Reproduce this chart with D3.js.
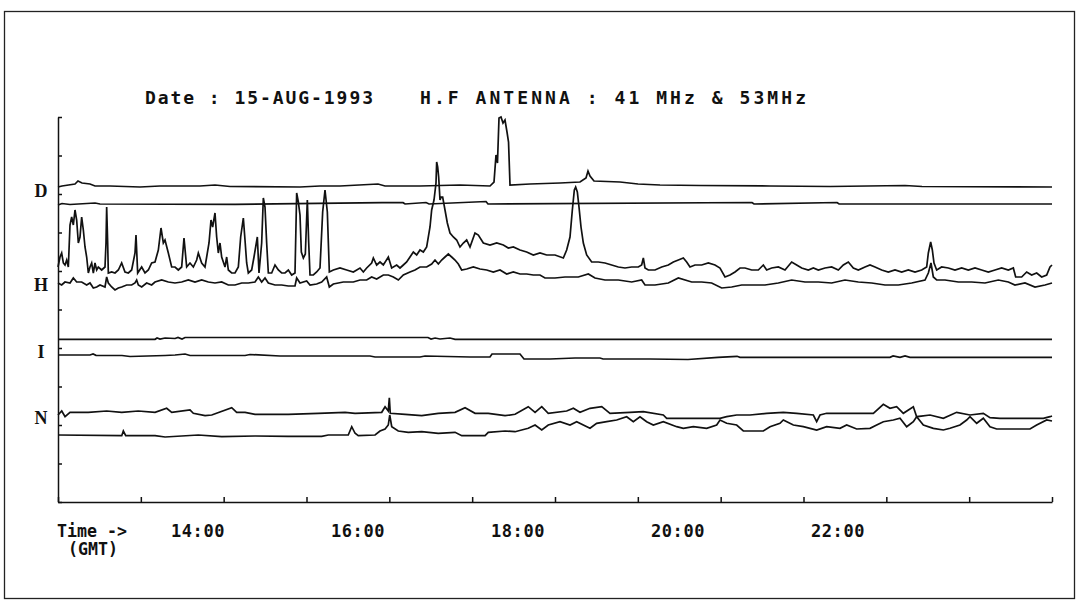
<!DOCTYPE html>
<html>
<head>
<meta charset="utf-8">
<script src="https://cdn.jsdelivr.net/npm/d3@7/dist/d3.min.js"></script>
<style>
  body { margin: 0; background: #fff; }
  svg text { fill: #111; }
</style>
</head>
<body>
<svg id="chart" width="1078" height="607"></svg>
<script>
'use strict';

// time is minutes after 12:15 GMT, level is in display units above the bottom axis
var titleDate = 'Date : 15-AUG-1993';
var titleAntenna = 'H.F ANTENNA : 41 MHz & 53MHz';
var hourLabels = ['14:00', '16:00', '18:00', '20:00', '22:00'];
var hourValues = [14, 16, 18, 20, 22];
var channelNames = ['D', 'H', 'I', 'N'];
var channelLevels = [311, 217, 150, 84];

// D channel
var traceD1 = [[0,315],[3,316],[12.75,318],[15,321],[18,319],[24,318],[27.75,316],[39,316],[61.5,315],
  [76.5,316],[106.5,316],[117.75,317],[129,315.5],[181.5,315],[196.5,316],[211.5,316],[240,318],
  [245.25,316],[271.5,316],[301.5,317],[324,316],[327,320],[328.5,347],[329.6,339],[330.75,384],
  [332.25,385],[333.75,379],[335.25,382],[336.75,370],[337.9,360],[339,317],[354,318],[376.5,319],
  [391.5,320],[396,324],[397.5,331],[399,326],[402,321],[421.5,320],[435,318],[451.5,317],
  [481.5,316.5],[534,316],[579,315.5],[635.25,316.5],[648,315.5],[745.5,315]];
var traceD2 = [[0,297],[3,298.5],[9,297.5],[27.8,299],[31.5,298],[132.8,297.7],[243,299.3],
  [258.8,299.3],[260.3,298],[276,299.5],[278.3,298],[321,300.5],[322.5,298],[520.5,299.5],
  [522,298],[584.3,299.5],[585.8,298],[745.5,298]];

// H channel
var traceH1 = [[0,235],[1.5,245],[2.75,249],[4,239],[5.25,237],[6.5,242],[7.75,235],[9,277],
  [10.25,285],[11.5,277],[12.75,292],[14,282],[15.25,259],[16.5,265],[17.75,285],[19,272],
  [20.25,255],[21.5,245],[22.75,229],[24,235],[25.25,239],[26.5,229],[27.75,239],[29,232],
  [30.25,235],[32.75,232],[35.25,235],[36,259],[36.5,295],[37.25,259],[37.75,229],[40.25,230],
  [42.75,229],[45.25,232],[47.75,239],[50.25,230],[52.75,229],[55.25,232],[57.75,249],[58.5,267],
  [59.75,229],[62.75,235],[65.25,229],[67.75,232],[70.25,239],[72.75,240],[75.25,252],[77.25,274],
  [79,259],[80.25,262],[82.75,249],[85.25,235],[87.75,235],[90.25,232],[92.75,235],[94.5,264],
  [96.5,235],[99,239],[101.5,235],[104,242],[105.25,249],[107.75,239],[110.25,235],[111.5,245],
  [113.25,259],[114.75,282],[116,275],[117.75,289],[119,265],[120.25,249],[121.5,259],[122.75,245],
  [125.25,235],[126.5,245],[127.75,232],[130.25,229],[132.75,229],[135.25,235],[137,265],[139,284],
  [140.25,262],[141.5,239],[142.75,229],[145.25,232],[147,245],[148.25,255],[149.5,265],
  [150.75,229],[152.75,259],[154,304],[155.25,295],[156.5,259],[157.75,229],[160.25,229],
  [162.75,237],[165.25,232],[167.75,229],[170.25,229],[172.75,232],[175.25,227],[177.75,229],
  [179,309],[180.25,300],[181.5,287],[182.5,250],[184,244],[185.5,248],[187,302],[188,260],
  [189,227],[191.5,227],[194,230],[196.5,234],[198.5,290],[200.25,312],[202,290],[203.5,230],
  [206.5,232],[211.5,234],[216.5,232],[221.5,230],[226.5,234],[229,230],[231.5,234],[235.25,239],
  [236.5,244],[239,237],[241.5,240],[244,237],[247.75,245],[250.25,234],[254,237],[256.5,234],
  [259,237],[261.5,240],[264,245],[266.5,250],[269,247],[271.5,252],[274,250],[276.5,255],
  [279,275],[280.25,292],[282,302],[283.5,319],[284,340],[284.75,335],[285.5,325],[286.5,302],
  [287.5,305],[288.5,305],[290.25,292],[292,279],[294,269],[296.5,265],[299,262],[301.5,255],
  [304,259],[306.5,262],[309,255],[312.75,269],[315.25,267],[319,259],[324,257],[329,259],
  [334,257],[337.75,254],[341.5,255],[346.5,252],[351.5,250],[356.5,247],[361.5,249],[366.5,247],
  [372.75,247],[379,244],[381.5,252],[384,265],[385.75,292],[387.25,312],[388.25,315],
  [389.5,310],[390.75,295],[392.25,275],[394,259],[396.5,247],[400.25,240],[405.25,240],
  [410.25,239],[415.25,237],[420.25,235],[425.25,234],[430.25,235],[435.25,235],[437.75,237],
  [439,244],[440.25,234],[442.75,232],[447.75,232],[452.75,235],[457.75,237],[461.5,240],
  [465.25,242],[469,244],[471.5,240],[474,235],[477.75,237],[482.75,237],[487.75,239],
  [492.75,237],[496.5,234],[500.25,225],[504,227],[507.75,230],[511.5,234],[515.25,234],
  [520.25,232],[525.25,232],[529,237],[531.5,232],[535.25,234],[540.25,235],[545.25,232],
  [550.25,240],[554,237],[557.75,234],[562.75,232],[566.5,234],[570.25,232],[575.25,234],
  [580.25,235],[585.25,232],[589,237],[592.75,240],[596.5,234],[600.25,232],[605.25,235],
  [609,237],[612.75,235],[617.75,232],[622.75,230],[627.75,232],[632.75,230],[637.75,232],
  [642.75,230],[647.75,232],[651.5,235],[652.75,249],[654.5,260],[655.75,252],[657,239],
  [659,232],[662.75,235],[667.75,234],[672.75,232],[677.75,234],[682.75,232],[687.75,234],
  [692.75,232],[697.75,230],[702.75,232],[707.75,234],[712.75,232],[716.5,234],[718.25,225],
  [722.75,225],[726.5,230],[730.25,227],[734,229],[737.75,225],[741.5,227],[744,235],[745.5,237]];
var traceH2 = [[0,219],[2.75,217],[5.25,220],[9,219],[11.5,224],[14,220],[17.75,220],[21.5,217],
  [24,219],[26.5,214],[29,215],[31.5,217],[35.25,215],[36.5,225],[37.75,219],[40.25,215],
  [42.75,212],[45.25,214],[47.75,215],[51.5,217],[55.25,217],[57.75,219],[59,222],[60.25,217],
  [62.75,215],[66.5,219],[70.25,217],[72.75,220],[77.75,222],[82.75,220],[87.75,219],[92.75,220],
  [97.75,222],[102.75,220],[107.75,222],[112.75,220],[117.75,219],[122.75,220],[127.75,217],
  [132.75,217],[137.75,219],[142.75,219],[147.75,220],[150.25,225],[152.75,220],[155.25,224],
  [157.75,219],[162.75,217],[167.75,217],[172.75,216],[177.75,216],[179,224],[181.5,219],
  [186.5,221],[189,217],[194,218],[197.75,220],[201.5,225],[203.5,215],[206.5,218],[214,220],
  [221.5,220],[226.5,222],[231.5,222],[235.25,225],[239,223],[244,227],[247.75,227],[251.5,225],
  [255.25,222],[259,227],[264,230],[267.75,232],[271.5,235],[276.5,235],[280.25,238],[282.75,242],
  [285.25,238],[287.75,242],[290.25,245],[292.75,248],[295.25,245],[297.75,242],[300.25,238],
  [302.75,232],[306.5,233],[311.5,235],[316.5,233],[321.5,232],[326.5,230],[331.5,232],
  [336.5,228],[341.5,230],[346.5,228],[351.5,228],[356.5,227],[361.5,227],[365.25,224],
  [372.75,224],[380.25,225],[390.25,225],[397.75,228],[402.75,224],[410.25,222],[420.25,222],
  [430.25,220],[437.75,222],[440.25,217],[447.75,217],[457.75,219],[465.25,224],[475.25,220],
  [482.75,220],[490.25,219],[497.75,214],[505.25,215],[512.75,217],[520.25,217],[530.25,217],
  [540.25,219],[550.25,222],[560.25,220],[570.25,220],[580.25,219],[590.25,222],[600.25,220],
  [610.25,219],[620.25,217],[630.25,217],[640.25,219],[650.25,222],[652.75,229],[654.75,239],
  [656.5,225],[659,222],[665.25,222],[675.25,220],[685.25,220],[695.25,219],[705.25,222],
  [712.75,220],[717.75,217],[725.25,219],[732.75,215],[740.25,217],[745.5,219]];

// I channel
var traceI1 = [[0,162.7],[72.8,162.7],[74.3,164],[76.5,163],[80.3,164],[87.8,163.5],[90,164.5],
  [93,163],[95.3,164.5],[102.8,164.5],[277.5,164.5],[279.8,163],[282.8,164],[286.5,163],
  [294,164],[297.8,162.7],[745.5,162.7]];
var traceI2 = [[0,147],[24,147],[26.3,148],[28.5,146.7],[48,146.5],[54,145.5],[80.3,146.5],
  [87.8,147],[95.3,148],[99,146.5],[140.3,146.5],[144,147.5],[166.5,146],[234,146],[237.8,145],
  [271.5,145],[275.3,146],[309,145],[324,145],[325.5,148],[346.5,148],[349.5,143],[369,143],
  [387.8,144],[406.5,144],[408.8,143],[444,143],[472.5,142.5],[495,144.7],[509.3,145.7],
  [511.5,144.7],[624,144.7],[626.3,146],[631.5,144.7],[635.3,146],[639,144.7],[745.5,144.7]];

// N channel
var traceN1 = [[0,87],[2.8,91],[5.3,85.3],[9,89.7],[22.7,89.7],[36.5,91],[47.8,89.7],[60.2,91],
  [72.8,89.7],[81.5,93.7],[85.3,89.7],[99,92],[101.5,88.7],[110.3,86.3],[115.3,87],[130.3,94.3],
  [134,89.7],[140.3,89.7],[147.8,87.7],[172.7,87.7],[195.2,88.7],[215.3,89.7],[222.8,88.7],
  [242.8,89.7],[245.3,95.3],[247.7,91],[248.5,104.3],[249.2,88.7],[260.3,87.7],[272.8,86.3],
  [285.2,88.7],[297.8,89.7],[305.3,94.3],[312.8,88.7],[322.7,88.7],[335.3,86.3],[342.8,87.7],
  [352.7,95.3],[357.8,89.7],[362.8,95.3],[367.7,88.7],[381.5,91],[386.5,93.7],[391.5,89.7],
  [399,93.7],[407.8,95.3],[414,88.7],[429,89.7],[439,90.3],[454,87],[456.5,83.7],[496.5,83.7],
  [501.5,85.3],[509,87],[519,87],[531.5,88.7],[544,89.7],[554,88.7],[566.5,87],[569,80.3],
  [571.5,87],[576.5,88.7],[611.5,88.7],[619,97.7],[624,93.7],[629,95.3],[634,88.7],[641.5,95.3],
  [644,85.3],[654,87],[664,83.7],[674,89.7],[684,87],[694,88.7],[699,84.3],[706.5,83.7],
  [739,83.7],[744,85.3],[745.5,86]];
var traceN2 = [[0,67],[47.8,66.3],[49,71],[50.8,66.3],[72.8,66.3],[80.3,65],[105.2,67],[122.8,65.3],
  [147.8,66],[172.7,65.7],[197.8,65.7],[202.7,67],[217.7,67],[220.3,75.3],[222.8,68.7],
  [225.2,66.3],[237.8,67],[241.5,71],[245.3,73],[247.7,77],[248.8,87],[250.3,75.3],[255.2,71],
  [262.7,69.7],[272.8,70.3],[285.2,68.7],[297.8,69.7],[302.8,66.3],[320.3,66.3],[322.7,69.7],
  [335.3,71],[342.8,70.3],[352.7,73.7],[357.8,77],[362.8,72],[367.7,77],[376.5,80.3],[384,77],
  [389,80.3],[394,77],[399,73.7],[404,78.7],[411.5,80.3],[419,82],[426.5,85.3],[431.5,80.3],
  [436.5,85.3],[441.5,80.3],[446.5,77],[454,80.3],[464,75.3],[469,73.7],[476.5,75.3],
  [486.5,73.7],[494,77],[496.5,82],[501.5,78.7],[509,77],[514,71],[529,71],[534,75.3],
  [541.5,78.7],[544,82],[551.5,77],[559,75.3],[569,72],[576.5,75.3],[586.5,73.7],[591.5,77],
  [599,73],[609,73.7],[614,77],[619,80.3],[626.5,82],[631.5,83.7],[636.5,75.3],[641.5,80.3],
  [644,85.3],[649,77],[656.5,73.7],[664,72],[669,73.7],[676.5,77],[681.5,82],[684,85.3],
  [689,78.7],[694,83.7],[699,75.3],[704,73],[729,73],[734,77],[741.5,82],[745.5,81]];

var traces = [traceD1, traceD2, traceH1, traceH2, traceI1, traceI2, traceN1, traceN2];

// layout
var plot = { left: 58, right: 1052, top: 117, bottom: 502 };
var svg = d3.select('#chart');

var x = d3.scaleLinear().domain([0, 745.5]).range([plot.left, plot.right]);
var y = d3.scaleLinear().domain([0, 385]).range([plot.bottom, plot.top]);

// frame round the whole picture
svg.append('rect')
  .attr('x', 4.5).attr('y', 11.5)
  .attr('width', 1070).attr('height', 587)
  .attr('fill', 'none')
  .attr('stroke', '#222')
  .attr('stroke-width', 1.3);

// left axis, ticks pointing inward
var yAxis = d3.axisRight(y)
  .tickValues(d3.range(0, 386, 38.5))
  .tickSize(4)
  .tickSizeOuter(0)
  .tickFormat('');
svg.append('g')
  .attr('transform', 'translate(' + plot.left + ',0)')
  .call(yAxis)
  .call(function (g) {
    g.selectAll('path, line').attr('stroke', '#111').attr('stroke-width', 1.5);
  });

// bottom axis, 12 equal divisions, ticks pointing up
var xAxis = d3.axisTop(x)
  .tickValues(d3.range(13).map(function (i) { return i * 745.5 / 12; }))
  .tickSize(5)
  .tickSizeOuter(0)
  .tickFormat('');
svg.append('g')
  .attr('transform', 'translate(0,' + plot.bottom + ')')
  .call(xAxis)
  .call(function (g) {
    g.selectAll('path, line').attr('stroke', '#111').attr('stroke-width', 1.5);
  });

// traces
var line = d3.line()
  .x(function (d) { return x(d[0]); })
  .y(function (d) { return y(d[1]); });

svg.append('g')
  .selectAll('path')
  .data(traces)
  .join('path')
  .attr('d', line)
  .attr('fill', 'none')
  .attr('stroke', '#111')
  .attr('stroke-width', 1.7)
  .attr('stroke-linejoin', 'miter');

// channel letters
svg.append('g')
  .selectAll('text')
  .data(channelNames)
  .join('text')
  .attr('x', 41)
  .attr('y', function (d, i) { return y(channelLevels[i]); })
  .attr('dy', '0.35em')
  .attr('text-anchor', 'middle')
  .style('font-family', '"Liberation Serif", serif')
  .style('font-weight', 'bold')
  .style('font-size', '18px')
  .text(function (d) { return d; });

// title
var mono = '"DejaVu Sans Mono", "Liberation Mono", monospace';
svg.append('text')
  .attr('x', 145).attr('y', 104)
  .attr('textLength', 228).attr('lengthAdjust', 'spacing')
  .style('font-family', mono).style('font-weight', 'bold').style('font-size', '18px')
  .text(titleDate);
svg.append('text')
  .attr('x', 420).attr('y', 104)
  .attr('textLength', 386).attr('lengthAdjust', 'spacing')
  .style('font-family', mono).style('font-weight', 'bold').style('font-size', '18px')
  .text(titleAntenna);

// time labels under the axis
svg.append('g')
  .selectAll('text')
  .data(hourLabels)
  .join('text')
  .attr('x', function (d, i) { return x((hourValues[i] - 12.25) * 60); })
  .attr('y', 537)
  .attr('text-anchor', 'middle')
  .style('font-family', mono).style('font-weight', 'bold').style('font-size', '17px')
  .style('letter-spacing', '0.6px')
  .text(function (d) { return d; });

svg.append('text')
  .attr('x', 57).attr('y', 537)
  .attr('textLength', 70).attr('lengthAdjust', 'spacingAndGlyphs')
  .style('font-family', mono).style('font-weight', 'bold').style('font-size', '17px')
  .text('Time ->');
svg.append('text')
  .attr('x', 68).attr('y', 555)
  .attr('textLength', 50).attr('lengthAdjust', 'spacingAndGlyphs')
  .style('font-family', mono).style('font-weight', 'bold').style('font-size', '17px')
  .text('(GMT)');
</script>
</body>
</html>
